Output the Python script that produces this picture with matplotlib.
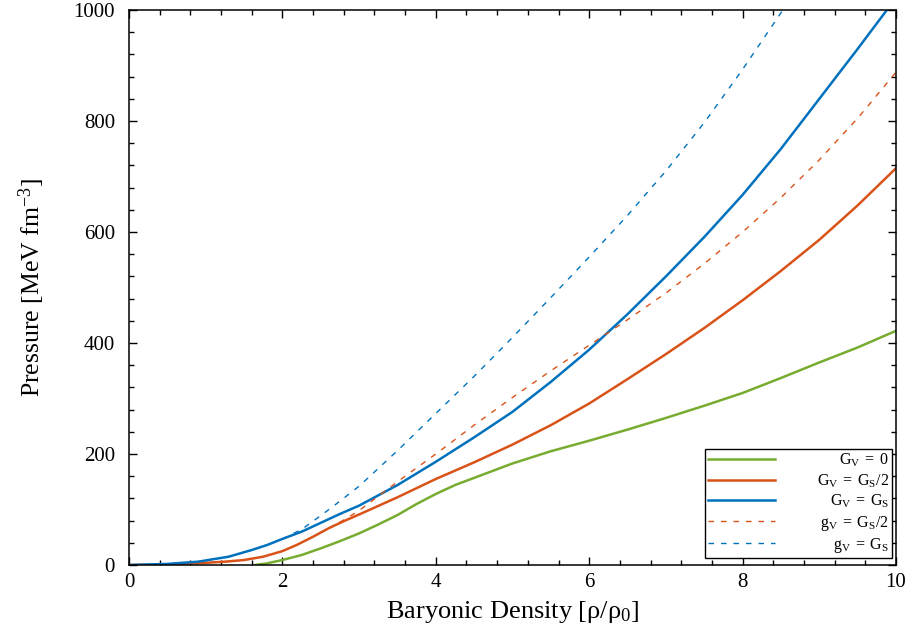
import matplotlib
matplotlib.use("Agg")
import matplotlib.pyplot as plt
from matplotlib.ticker import MultipleLocator

# ── Data ──────────────────────────────────────────────────────────────────────
x_g0 = [1.64, 1.8, 2.0, 2.25, 2.5, 2.75, 3.0, 3.25, 3.5, 3.75, 4.0, 4.25, 4.5,
        5.0, 5.5, 6.0, 6.5, 7.0, 7.5, 8.0, 8.5, 9.0, 9.5, 10.0]
p_g0 = [0, 3, 9, 18, 30, 43, 57, 73, 90, 110, 128, 144, 157,
        183, 205, 224, 244, 265, 287, 310, 337, 365, 392, 422]

x_half = [0, 0.5, 1.0, 1.25, 1.5, 1.75, 2.0, 2.2, 2.4, 2.6, 2.8, 3.0, 3.5, 4.0,
          4.5, 5.0, 5.5, 6.0, 6.5, 7.0, 7.5, 8.0, 8.5, 9.0, 9.5, 10.0]
p_half = [0, 1, 4, 6, 9, 15, 25, 37, 51, 66, 79, 91, 122, 155,
          185, 217, 252, 291, 335, 380, 427, 477, 530, 586, 648, 715]

x_full = [0, 0.5, 0.9, 1.3, 1.6, 1.8, 2.0, 2.25, 2.5, 2.75, 3.0, 3.5, 4.0,
          4.5, 5.0, 5.5, 6.0, 6.5, 7.0, 7.5, 8.0, 8.5, 9.0, 9.5, 10.0]
p_full = [0, 2, 6, 15, 27, 36, 47, 60, 76, 92, 107, 144, 186,
          230, 276, 330, 388, 452, 520, 591, 667, 750, 840, 930, 1022]

x_half_d = [2.6, 2.8, 3.0, 3.5, 4.0, 4.5, 5.0, 5.5, 6.0, 6.5, 7.0, 7.5, 8.0,
            8.5, 9.0, 9.5, 10.0]
p_half_d = [66, 81, 98, 150, 200, 252, 302, 350, 396, 442, 490, 543, 600,
            662, 730, 805, 888]

x_full_d = [2.0, 2.25, 2.5, 2.75, 3.0, 3.5, 4.0, 4.5, 5.0, 5.5, 6.0, 6.5, 7.0,
            7.5, 8.0, 8.5, 8.6]
p_full_d = [47, 64, 89, 115, 142, 206, 273, 340, 410, 482, 555, 630, 710,
            797, 893, 995, 1016]

labels = [r"$\mathrm{G_V\;=\;0}$", r"$\mathrm{G_V\;=\;G_S/2}$",
          r"$\mathrm{G_V\;=\;G_S}$", r"$\mathrm{g_V\;=\;G_S/2}$",
          r"$\mathrm{g_V\;=\;G_S}$"]

# ── Style ─────────────────────────────────────────────────────────────────────
C_GREEN = "#77AC30"
C_ORANGE = "#D95319"
C_BLUE = "#0072BD"

plt.rcParams["font.family"] = ["Liberation Serif", "DejaVu Serif"]
plt.rcParams["mathtext.fontset"] = "custom"
plt.rcParams["mathtext.rm"] = "Liberation Serif"
plt.rcParams["mathtext.it"] = "Liberation Serif:italic"

fig = plt.figure(figsize=(9.12, 6.37), dpi=100)
ax = fig.add_axes([0.1414, 0.113, 0.8411, 0.8713])

ax.plot(x_g0, p_g0, color=C_GREEN, lw=1.8, label=labels[0])
ax.plot(x_half, p_half, color=C_ORANGE, lw=1.8, label=labels[1])
ax.plot(x_full, p_full, color=C_BLUE, lw=1.8, label=labels[2])
ax.plot(x_half_d, p_half_d, color=C_ORANGE, lw=1.0, dashes=(4, 5), label=labels[3])
ax.plot(x_full_d, p_full_d, color=C_BLUE, lw=1.0, dashes=(4, 5), label=labels[4])

ax.set_xlim(0, 10)
ax.set_ylim(0, 1000)
ax.xaxis.set_major_locator(MultipleLocator(2))
ax.xaxis.set_minor_locator(MultipleLocator(0.4))
ax.yaxis.set_major_locator(MultipleLocator(200))
ax.yaxis.set_minor_locator(MultipleLocator(40))
ax.tick_params(which="both", direction="in", top=True, right=True, width=1.0)
ax.tick_params(which="major", length=6)
ax.tick_params(which="minor", length=3.5)
ax.tick_params(axis="x", labelsize=15, pad=6)
ax.tick_params(axis="y", labelsize=15, pad=10)
for s in ax.spines.values():
    s.set_linewidth(1.1)

ax.set_xlabel(r"Baryonic Density [ρ/ρ$_0$]", fontsize=19, labelpad=5)
ax.set_ylabel(r"Pressure [MeV fm$^{\mathrm{-3}}$]", fontsize=18.5, labelpad=19)

leg = ax.legend(loc="lower right", bbox_to_anchor=(0.995, 0.0126),
                borderaxespad=0, fontsize=11.5, fancybox=False, framealpha=1,
                edgecolor="black", handlelength=4.2, handletextpad=2.6,
                labelspacing=0.2, borderpad=0.2)
leg.get_frame().set_linewidth(1.0)

# right-align the legend labels like the reference
fig.canvas.draw()
r = fig.canvas.get_renderer()
widths = [t.get_window_extent(r).width for t in leg.get_texts()]
wmax = max(widths)
for t, w in zip(leg.get_texts(), widths):
    t.set_x(wmax - w)

fig.savefig("out.png", dpi=100)
